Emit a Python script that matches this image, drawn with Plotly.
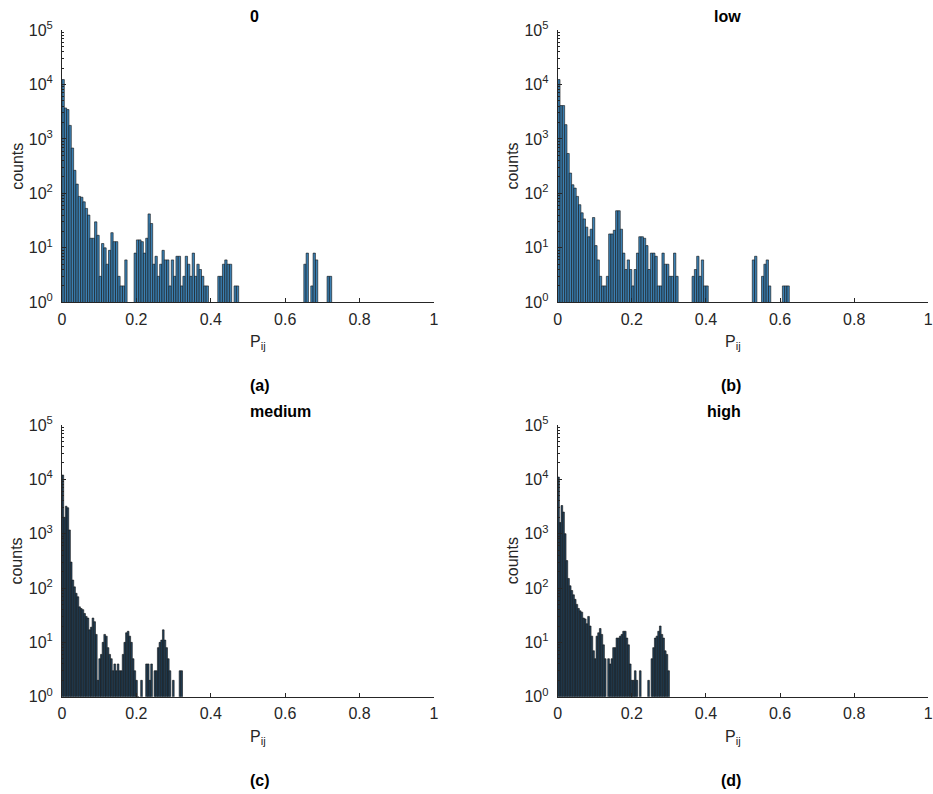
import plotly.graph_objects as go

# ---------------- data ----------------
panel_titles = ["0", "low", "medium", "high"]
panel_tags = ["(a)", "(b)", "(c)", "(d)"]

bin_width_top = 0.00625      # bin width of panels (a), (b)
bin_width_bottom = 0.0045    # bin width of panels (c), (d)

counts_zero = [
    12300, 3700, 3460, 1770, 680, 265, 148, 88, 85, 70, 53, 40, 15, 15, 30, 17, 3, 12, 10, 5,
    9, 19, 13, 13, 3, 2, 2, 6, 0, 0, 0, 8, 14, 14, 13, 8, 15, 42, 28, 5,
    7, 3, 5, 9, 6, 6, 2, 6, 3, 7, 7, 2, 3, 7, 5, 3, 8, 3, 5, 4,
    3, 2, 2, 0, 0, 0, 0, 3, 3, 5, 6, 5, 5, 0, 2, 2, 0, 0, 0, 0,
    0, 0, 0, 0, 0, 0, 0, 0, 0, 0, 0, 0, 0, 0, 0, 0, 0, 0, 0, 0,
    0, 0, 0, 0, 5, 8, 0, 2, 8, 6, 0, 0, 0, 0, 3, 3,
]

counts_low = [
    12300, 4100, 4100, 1830, 540, 236, 144, 125, 88, 62, 44, 34, 24, 16, 22, 36, 11, 6, 3, 2,
    2, 3, 18, 18, 21, 48, 48, 22, 8, 4, 6, 4, 2, 4, 8, 16, 16, 15, 11, 4,
    8, 8, 7, 2, 2, 8, 5, 5, 3, 3, 8, 3, 0, 0, 0, 0, 0, 0, 3, 4,
    7, 3, 6, 2, 2, 0, 0, 0, 0, 0, 0, 0, 0, 0, 0, 0, 0, 0, 0, 0,
    0, 0, 0, 0, 6, 7, 0, 0, 3, 5, 6, 2, 0, 0, 0, 0, 1, 2, 2, 2,
]

counts_medium = [
    12000, 2000, 3200, 3000, 1170, 300, 140, 105, 80, 69, 45, 42, 40, 34, 30, 28, 17, 19, 28, 24,
    14, 2, 5, 6, 10, 14, 13, 8, 6, 5, 3, 4, 3, 4, 3, 3, 6, 10, 15, 16,
    13, 10, 5, 3, 2, 1, 0, 2, 0, 0, 4, 4, 2, 4, 0, 3, 3, 8, 10, 11,
    17, 11, 8, 5, 3, 0, 2, 0, 0, 0, 3, 3,
]

counts_high = [
    11000, 1600, 3300, 2500, 1000, 320, 150, 110, 90, 75, 62, 50, 42, 38, 36, 28, 27, 22, 30, 20,
    13, 7, 5, 13, 15, 18, 14, 9, 5, 0, 5, 4, 5, 8, 8, 12, 12, 13, 14, 16,
    16, 12, 9, 4, 2, 2, 3, 2, 0, 3, 0, 0, 0, 0, 2, 0, 5, 8, 12, 13,
    16, 20, 14, 12, 7, 6, 3,
]

x_tick_vals = [0, 0.2, 0.4, 0.6, 0.8, 1]
x_tick_text = ["0", "0.2", "0.4", "0.6", "0.8", "1"]
y_tick_vals = [1, 10, 100, 1000, 10000, 100000]
y_tick_text = ["10<sup>0</sup>", "10<sup>1</sup>", "10<sup>2</sup>",
               "10<sup>3</sup>", "10<sup>4</sup>", "10<sup>5</sup>"]

# ---------------- style / layout ----------------
W, H = 933, 794
FONT = "Liberation Sans, Arial, Helvetica, sans-serif"
AX = "#262626"
FILLS = ["#3b80b3", "#3b80b3", "#24455f", "#24455f"]

x_domains = [[62 / W, 434 / W], [557.7 / W, 928.3 / W]]
y_domains = [[1 - 302.3 / H, 1 - 30 / H], [1 - 696.7 / H, 1 - 425 / H]]

panels = [
    (counts_zero, bin_width_top, 0, 0),
    (counts_low, bin_width_top, 1, 0),
    (counts_medium, bin_width_bottom, 0, 1),
    (counts_high, bin_width_bottom, 1, 1),
]

minor_vals = [m * 10 ** k for k in range(0, 5) for m in range(2, 10)]

fig = go.Figure()
layout = dict(
    width=W, height=H,
    margin=dict(l=0, r=0, t=0, b=0, autoexpand=False),
    paper_bgcolor="white", plot_bgcolor="white",
    showlegend=False, bargap=0,
    font=dict(family=FONT, color=AX, size=15),
)
annotations = []

for k, (counts, w, col, row) in enumerate(panels):
    n = k + 1
    xs = [(i + 0.5) * w for i in range(len(counts))]
    ys = [c if c > 0 else None for c in counts]
    fig.add_trace(go.Bar(
        x=xs, y=ys, width=w,
        marker=dict(color=FILLS[k], line=dict(color="#111111", width=0.6)),
        xaxis=f"x{n}" if n > 1 else "x",
        yaxis=f"y{n}" if n > 1 else "y",
        hoverinfo="skip",
    ))
    xkey = "xaxis" if n == 1 else f"xaxis{n}"
    ykey = "yaxis" if n == 1 else f"yaxis{n}"
    layout[xkey] = dict(
        domain=x_domains[col], anchor=f"y{n}" if n > 1 else "y",
        range=[0, 1], tickvals=x_tick_vals, ticktext=x_tick_text,
        ticks="inside", ticklen=4, tickcolor=AX, showline=True, linecolor=AX,
        linewidth=1, showgrid=False, zeroline=False, tickfont=dict(size=16, color=AX),
        automargin=False, ticklabeloverflow="allow", ticklabelstandoff=2,
        fixedrange=True,
    )
    layout[ykey] = dict(
        domain=y_domains[row], anchor=f"x{n}" if n > 1 else "x",
        type="log", range=[0, 5], tickvals=y_tick_vals, ticktext=y_tick_text,
        ticks="inside", ticklen=4, tickcolor=AX, showline=True, linecolor=AX,
        linewidth=1, showgrid=False, zeroline=False, tickfont=dict(size=16, color=AX),
        minor=dict(tickvals=minor_vals, ticks="inside", ticklen=2, tickcolor=AX, showgrid=False),
        automargin=False, ticklabeloverflow="allow", ticklabelstandoff=5,
        fixedrange=True,
    )
    xc = (x_domains[col][0] + x_domains[col][1]) / 2
    top_px = 30 if row == 0 else 425
    axis_px = 302.3 if row == 0 else 696.7
    # title
    annotations.append(dict(text=f"<b>{panel_titles[k]}</b>", x=xc, y=1 - (top_px - 13.3) / H,
                            xref="paper", yref="paper", showarrow=False,
                            font=dict(size=16, color="black"), yanchor="middle"))
    # x label
    annotations.append(dict(text="P<sub>ij</sub>", x=xc, y=1 - (axis_px + 29) / H,
                            xref="paper", yref="paper", showarrow=False,
                            font=dict(size=16, color=AX), yanchor="top"))
    # panel tag
    annotations.append(dict(text=f"<b>{panel_tags[k]}</b>", x=xc, y=1 - (axis_px + 83.3) / H,
                            xref="paper", yref="paper", showarrow=False,
                            font=dict(size=16, color="black"), yanchor="middle"))
    # y label
    annotations.append(dict(text="counts", x=(x_domains[col][0] * W - 45.3) / W,
                            y=(y_domains[row][0] + y_domains[row][1]) / 2,
                            xref="paper", yref="paper", showarrow=False, textangle=-90,
                            font=dict(size=16, color=AX), xanchor="center", yanchor="middle"))

layout["annotations"] = annotations
fig.update_layout(**layout)
fig.write_html("out.html", config={"displayModeBar": False, "staticPlot": True},
               post_script="document.body.style.margin='0';document.body.style.overflow='hidden';")
